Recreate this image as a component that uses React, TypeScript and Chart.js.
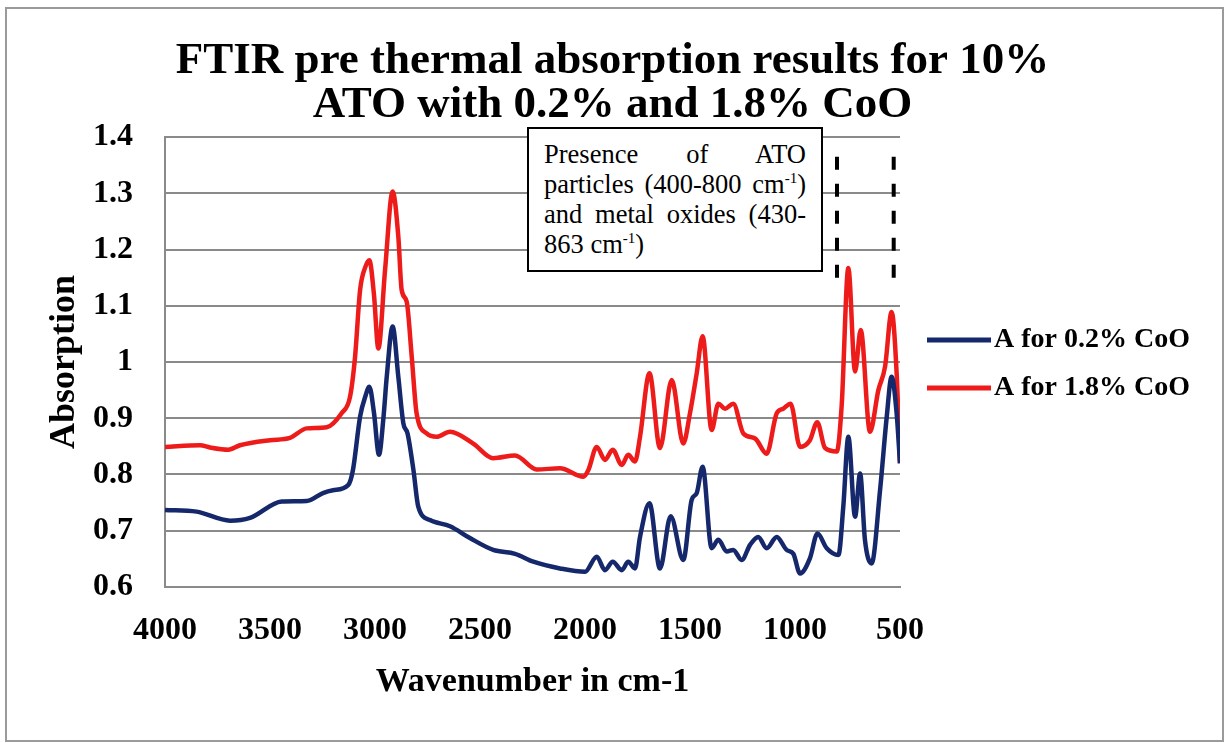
import React, { useEffect, useRef } from 'react';
import { Chart, registerables } from 'chart.js';

Chart.register(...registerables);

const titleLines = ['FTIR pre thermal absorption results for 10%', 'ATO with 0.2% and 1.8% CoO'];
const seriesLabels = ['A for 0.2% CoO', 'A for 1.8% CoO'];
const seriesColors = ['#15286b', '#ee1b1b'];
const xTitle = 'Wavenumber in cm-1';
const yTitle = 'Absorption';

const waveLow = [4000, 3850, 3690, 3595, 3444, 3325, 3248, 3200, 3128, 3105, 3071, 3045, 3027, 3005, 2981, 2960, 2944, 2916, 2889, 2865, 2845, 2817, 2794, 2738, 2643, 2548, 2437, 2333, 2246, 2119, 2000, 1944, 1905, 1868, 1825, 1794, 1762, 1738, 1693, 1643, 1592, 1532, 1492, 1468, 1440, 1397, 1365, 1325, 1294, 1254, 1214, 1175, 1135, 1087, 1040, 1008, 976, 929, 893, 849, 793, 770, 746, 714, 690, 667, 635, 595, 563, 540, 516, 500];
const absLow = [0.737, 0.734, 0.718, 0.723, 0.752, 0.753, 0.767, 0.772, 0.781, 0.808, 0.903, 0.94, 0.956, 0.91, 0.835, 0.9, 0.974, 1.063, 0.974, 0.891, 0.873, 0.808, 0.743, 0.719, 0.708, 0.687, 0.666, 0.659, 0.645, 0.633, 0.627, 0.654, 0.63, 0.645, 0.63, 0.645, 0.633, 0.689, 0.749, 0.633, 0.726, 0.648, 0.755, 0.767, 0.814, 0.669, 0.684, 0.663, 0.666, 0.648, 0.675, 0.689, 0.669, 0.689, 0.666, 0.659, 0.624, 0.651, 0.695, 0.669, 0.657, 0.743, 0.867, 0.725, 0.802, 0.684, 0.642, 0.772, 0.903, 0.974, 0.909, 0.82];

const waveHigh = [4000, 3833, 3786, 3698, 3643, 3500, 3405, 3325, 3230, 3159, 3119, 3095, 3071, 3045, 3027, 3005, 2984, 2952, 2916, 2889, 2873, 2849, 2825, 2802, 2754, 2706, 2643, 2532, 2437, 2333, 2230, 2119, 2008, 1984, 1944, 1905, 1868, 1825, 1794, 1762, 1738, 1693, 1643, 1587, 1532, 1500, 1468, 1440, 1397, 1365, 1333, 1294, 1246, 1190, 1135, 1087, 1056, 1021, 976, 929, 894, 857, 801, 778, 746, 714, 687, 643, 603, 571, 540, 516, 500];
const absHigh = [0.849, 0.852, 0.848, 0.844, 0.852, 0.861, 0.865, 0.882, 0.884, 0.909, 0.938, 1.009, 1.128, 1.17, 1.181, 1.12, 1.024, 1.164, 1.303, 1.223, 1.128, 1.107, 1.009, 0.909, 0.873, 0.867, 0.876, 0.855, 0.829, 0.834, 0.809, 0.811, 0.796, 0.808, 0.849, 0.826, 0.844, 0.817, 0.835, 0.823, 0.867, 0.98, 0.847, 0.968, 0.855, 0.909, 0.98, 1.046, 0.879, 0.926, 0.917, 0.926, 0.873, 0.864, 0.837, 0.909, 0.917, 0.926, 0.849, 0.861, 0.893, 0.847, 0.841, 0.921, 1.167, 0.983, 1.057, 0.876, 0.95, 0.992, 1.089, 0.98, 0.82];

const xTickValues = [4000, 3500, 3000, 2500, 2000, 1500, 1000, 500];
const yTickValues = [0.6, 0.7, 0.8, 0.9, 1.0, 1.1, 1.2, 1.3, 1.4];

const regionWaves = [800, 530];
const regionAbsRange = [1.14, 1.365];

const SERIF = "'Liberation Serif', 'Times New Roman', serif";

const sideLegend = {
  id: 'sideLegend',
  afterDraw(chart: any) {
    const { ctx, chartArea } = chart;
    const ds = chart.data.datasets;
    const cy = (chartArea.top + chartArea.bottom) / 2 + 2;
    const gap = 48;
    ctx.save();
    ds.forEach((d: any, i: number) => {
      const y = cy - gap / 2 + i * gap;
      ctx.strokeStyle = d.borderColor;
      ctx.lineWidth = 5;
      ctx.lineCap = 'butt';
      ctx.beginPath();
      ctx.moveTo(chartArea.right + 27, y);
      ctx.lineTo(chartArea.right + 91, y);
      ctx.stroke();
      ctx.fillStyle = '#000';
      ctx.font = `bold 28px ${SERIF}`;
      ctx.textBaseline = 'middle';
      ctx.textAlign = 'left';
      ctx.fillText(d.label, chartArea.right + 94, y);
    });
    ctx.restore();
  },
};

const regionMarks = {
  id: 'regionMarks',
  afterDatasetsDraw(chart: any) {
    const { ctx, scales } = chart;
    const x = scales.x;
    const y = scales.y;
    ctx.save();
    ctx.strokeStyle = '#000';
    ctx.lineWidth = 4;
    ctx.setLineDash([13, 14]);
    regionWaves.forEach((w) => {
      const px = x.getPixelForValue(w);
      ctx.beginPath();
      ctx.moveTo(px, y.getPixelForValue(regionAbsRange[1]));
      ctx.lineTo(px, y.getPixelForValue(regionAbsRange[0]));
      ctx.stroke();
    });
    ctx.restore();
  },
};

export default function App() {
  const ref = useRef<HTMLCanvasElement | null>(null);

  useEffect(() => {
    if (!ref.current) return;
    const chart = new Chart(ref.current, {
      type: 'line',
      data: {
        datasets: [
          {
            label: seriesLabels[0],
            data: waveLow.map((w, i) => ({ x: w, y: absLow[i] })),
            borderColor: seriesColors[0],
            backgroundColor: seriesColors[0],
            borderWidth: 4.5,
            pointRadius: 0,
            cubicInterpolationMode: 'monotone',
          },
          {
            label: seriesLabels[1],
            data: waveHigh.map((w, i) => ({ x: w, y: absHigh[i] })),
            borderColor: seriesColors[1],
            backgroundColor: seriesColors[1],
            borderWidth: 4.5,
            pointRadius: 0,
            cubicInterpolationMode: 'monotone',
          },
        ],
      },
      options: {
        responsive: false,
        animation: false,
        layout: { padding: 0 },
        plugins: {
          legend: { display: false },
          tooltip: { enabled: false },
          title: {
            display: true,
            text: titleLines,
            color: '#000',
            font: { family: SERIF, size: 45, weight: 'bold', lineHeight: '44px' },
            padding: { top: 39, bottom: 10 },
          },
        },
        scales: {
          x: {
            type: 'linear',
            reverse: true,
            min: 500,
            max: 4000,
            afterBuildTicks: (s: any) => {
              s.ticks = xTickValues.map((v) => ({ value: v }));
            },
            afterFit: (s: any) => {
              s.height = 156;
            },
            grid: { display: false, drawTicks: false },
            border: { display: true, color: '#8a8a8a', width: 2 },
            ticks: {
              color: '#000',
              padding: 25,
              maxRotation: 0,
              autoSkip: false,
              font: { family: SERIF, size: 32, weight: 'bold' },
              callback: (v: any) => String(v),
            },
            title: {
              display: true,
              text: xTitle,
              color: '#000',
              font: { family: SERIF, size: 34, weight: 'bold' },
              padding: { top: 0, bottom: 40 },
            },
          },
          y: {
            type: 'linear',
            min: 0.6,
            max: 1.4,
            afterBuildTicks: (s: any) => {
              s.ticks = yTickValues.map((v) => ({ value: v }));
            },
            afterFit: (s: any) => {
              s.width = 165;
            },
            grid: { color: '#8a8a8a', lineWidth: 2, drawTicks: false },
            border: { display: true, color: '#8a8a8a', width: 2 },
            ticks: {
              color: '#000',
              padding: 32,
              font: { family: SERIF, size: 32, weight: 'bold' },
              callback: (v: any) => String(Math.round(v * 10) / 10),
            },
            title: {
              display: true,
              text: yTitle,
              color: '#000',
              font: { family: SERIF, size: 36, weight: 'bold' },
              padding: { top: 43, bottom: 0 },
            },
          },
          legendSpace: {
            type: 'linear',
            position: 'right',
            display: true,
            afterFit: (s: any) => {
              s.width = 325;
            },
            grid: { display: false, drawTicks: false },
            border: { display: false },
            ticks: { display: false },
          },
        },
      },
      plugins: [sideLegend, regionMarks],
    });
    return () => chart.destroy();
  }, []);

  const justified: React.CSSProperties = { textAlign: 'justify', textAlignLast: 'justify' };
  const sup: React.CSSProperties = { fontSize: '15px', position: 'relative', top: '-10px', lineHeight: 0, verticalAlign: 'baseline' };

  return (
    <div style={{ position: 'fixed', left: 0, top: 0, width: 1225, height: 743, background: '#fff' }}>
      <canvas ref={ref} width={1225} height={743} style={{ display: 'block', position: 'absolute', left: 0, top: 0 }} />
      <div
        style={{
          position: 'absolute',
          left: 5,
          top: 7,
          width: 1219,
          height: 735,
          boxSizing: 'border-box',
          border: '2px solid #9a9a9a',
          pointerEvents: 'none',
        }}
      />
      <div
        style={{
          position: 'absolute',
          left: 527,
          top: 127,
          width: 296,
          height: 145,
          boxSizing: 'border-box',
          border: '2px solid #000',
          background: '#fff',
          padding: '10px 15px 0 15px',
          fontFamily: SERIF,
          fontSize: 26.5,
          lineHeight: '30px',
          color: '#000',
        }}
      >
        <div style={justified}>Presence of ATO</div>
        <div style={justified}>
          particles (400-800 cm<span style={sup}>-1</span>)
        </div>
        <div style={justified}>and metal oxides (430-</div>
        <div>
          863 cm<span style={sup}>-1</span>)
        </div>
      </div>
    </div>
  );
}
